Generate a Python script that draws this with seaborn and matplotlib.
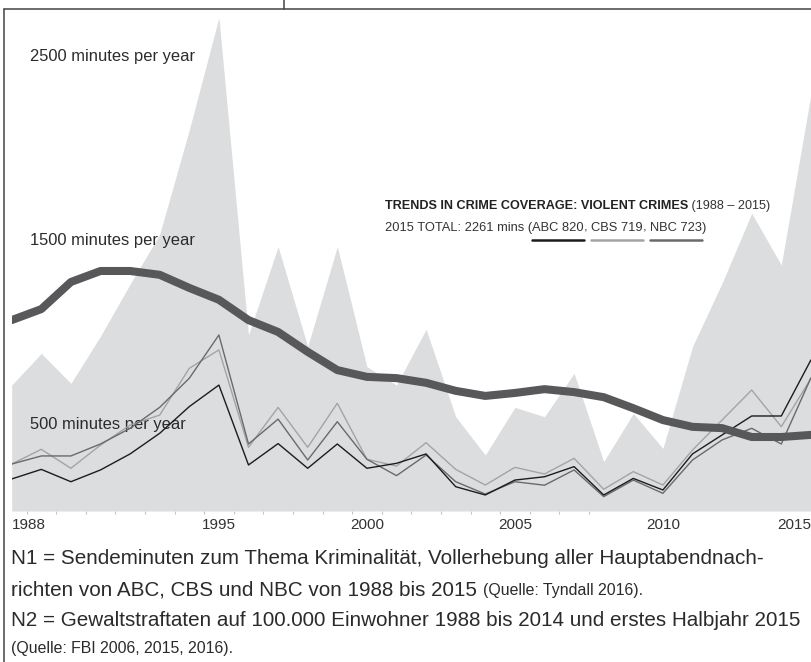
import matplotlib
matplotlib.use('Agg')
import matplotlib.pyplot as plt
from matplotlib.lines import Line2D
import seaborn as sns
import pandas as pd

sns.set_theme(style="white")
plt.rcParams['font.family'] = ['Liberation Sans', 'DejaVu Sans']

# N1: evening news minutes on crime (ABC, CBS, NBC and total)
years = list(range(1988, 2016))
total_minutes = [684, 856, 693, 950, 1232, 1503, 2070, 2680, 956, 1436, 893, 1436, 784, 684,
                 987, 512, 304, 563, 512, 748, 268, 530, 340, 893, 1238, 1617, 1336, 2261]
abc = [174, 226, 159, 223, 310, 422, 567, 684, 250, 366, 232, 364, 232, 259,
       310, 132, 87, 168, 186, 241, 87, 177, 114, 310, 413, 516, 516, 820]
cbs = [255, 335, 232, 358, 467, 521, 775, 875, 346, 563, 346, 585, 281, 244,
       371, 226, 141, 237, 201, 286, 118, 214, 141, 331, 494, 657, 458, 719]
nbc = [255, 299, 299, 364, 449, 563, 721, 956, 364, 499, 277, 485, 281, 192,
       304, 159, 92, 159, 140, 223, 78, 168, 96, 277, 386, 449, 364, 723]
# N2: violent crimes per 100,000 inhabitants
crime_rate = [642, 668, 732, 758, 758, 749, 718, 690, 642, 614, 567, 524, 508, 505,
              494, 475, 463, 470, 479, 472, 460, 434, 406, 390, 387, 366, 366, 371]

tick_years = [1988, 1995, 2000, 2005, 2010, 2015]
minute_labels = [(2500, '2500 minutes per year'), (1500, '1500 minutes per year'),
                 (500, '500 minutes per year')]

df = pd.DataFrame({'year': years, 'total': total_minutes, 'ABC': abc, 'CBS': cbs,
                   'NBC': nbc, 'crime': crime_rate})

W, H = 812, 662
fig = plt.figure(figsize=(W / 100, H / 100), dpi=100, facecolor='white')
ax = fig.add_axes([11.7 / W, 1 - 511 / H, (810.9 - 11.7) / W, (511 - 10) / H])

ax.fill_between(df['year'], df['total'], 0, color='#dcdddf', lw=0, zorder=1)
line_colors = {'CBS': '#a4a4a4', 'NBC': '#6a6a6c', 'ABC': '#1c1c1c'}
for name, col in line_colors.items():
    sns.lineplot(data=df, x='year', y=name, color=col, lw=1.0, ax=ax, zorder=3)

ax.set_xlim(1988, 2015)
ax.set_ylim(0, 2721)
for s in ax.spines.values():
    s.set_visible(False)
ax.set_xlabel('')
ax.set_ylabel('')
ax.set_yticks([])
ax.set_xticks(tick_years)
ax.set_xticklabels([str(y) for y in tick_years])
ax.set_xticks([y + 0.5 for y in range(1988, 2008)], minor=True)
ax.tick_params(axis='x', which='major', bottom=True, length=0, pad=5,
               labelsize=11, labelcolor='#333333')
ax.tick_params(axis='x', which='minor', bottom=True, length=2.5, width=0.8,
               color='#c4c4c4', direction='out')
lbls = ax.get_xticklabels()
lbls[0].set_ha('left')
lbls[-1].set_ha('right')

for val, txt in minute_labels:
    ax.text(1988.62, val - 32, txt, va='center', ha='left', fontsize=11.9,
            color='#2b2b2b', zorder=2)

ax2 = ax.twinx()
sns.lineplot(data=df, x='year', y='crime', color='#58585a', lw=5.8,
             solid_capstyle='round', ax=ax2)
ax2.set_ylim(191.3, 1374.2)
ax2.set_xlim(1988, 2015)
ax2.set_yticks([])
ax2.set_ylabel('')
for s in ax2.spines.values():
    s.set_visible(False)

# legend block
renderer = fig.canvas.get_renderer()


def ftext(px, py, s, **kw):
    return fig.text(px / W, 1 - py / H, s, va='center', ha='left', **kw)


t = ftext(385, 206, 'TRENDS IN CRIME COVERAGE: VIOLENT CRIMES', fontsize=9.1,
          fontweight='bold', color='#222222')
x = t.get_window_extent(renderer).x1
ftext(x, 206, ' (1988 – 2015)', fontsize=9.1, color='#333333')

pieces = [('2015 TOTAL: 2261 mins (', None), ('ABC 820', line_colors['ABC']), (', ', None),
          ('CBS 719', line_colors['CBS']), (', ', None), ('NBC 723', line_colors['NBC']),
          (')', None)]
x = 385
for s, col in pieces:
    t = ftext(x, 228, s, fontsize=9.3, color='#333333')
    bb = t.get_window_extent(renderer)
    if col is not None:
        fig.add_artist(Line2D([bb.x0 / W, bb.x1 / W], [1 - 240 / H] * 2, color=col,
                              lw=1.8, transform=fig.transFigure))
    x = bb.x1

# footnotes
fs, fs_small = 14.9, 11.4
ftext(11, 559, 'N1 = Sendeminuten zum Thema Kriminalität, Vollerhebung aller Hauptabendnach-',
      fontsize=fs, color='#2b2b2b')
t = ftext(11, 590, 'richten von ABC, CBS und NBC von 1988 bis 2015 ', fontsize=fs, color='#2b2b2b')
x = t.get_window_extent(renderer).x1
ftext(x, 591, '(Quelle: Tyndall 2016).', fontsize=fs_small, color='#2b2b2b')
ftext(11, 620, 'N2 = Gewaltstraftaten auf 100.000 Einwohner 1988 bis 2014 und erstes Halbjahr 2015',
      fontsize=fs, color='#2b2b2b')
ftext(11, 648, '(Quelle: FBI 2006, 2015, 2016).', fontsize=fs_small, color='#2b2b2b')

# frame
frame = '#444444'
fig.add_artist(Line2D([4.5 / W, 4.5 / W], [0, 1 - 9 / H], color=frame, lw=1.1))
fig.add_artist(Line2D([4.5 / W, 1], [1 - 9 / H] * 2, color=frame, lw=1.1))
fig.add_artist(Line2D([284 / W] * 2, [1 - 9 / H, 1], color=frame, lw=1.1))

fig.savefig('out.png', dpi=100, facecolor='white')
